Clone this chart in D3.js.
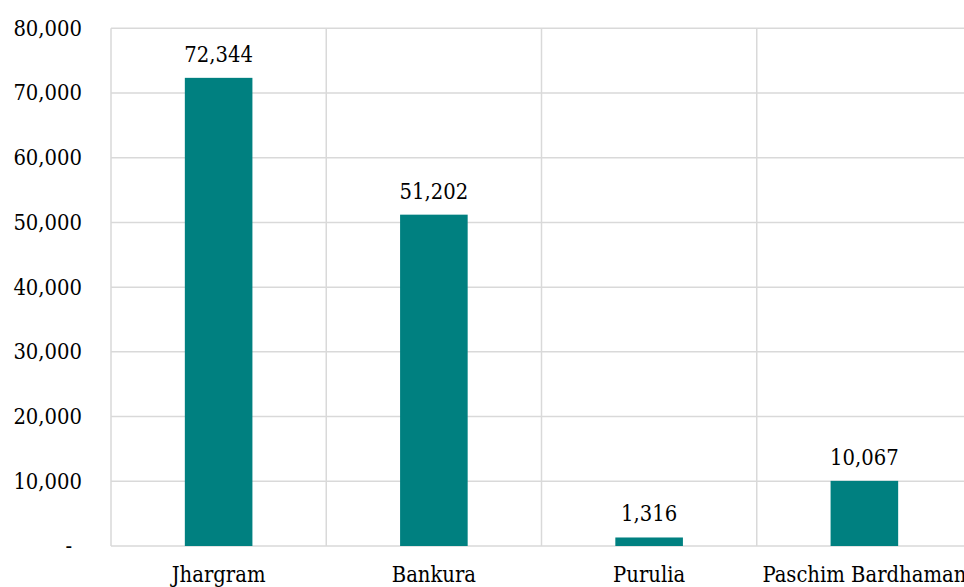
<!DOCTYPE html>
<html>
<head>
<meta charset="utf-8">
<script src="https://cdn.jsdelivr.net/npm/d3@7"></script>
<style>
  html, body { margin: 0; padding: 0; background: #fff; overflow: hidden; }
  svg { display: block; }
  text { font-family: "DejaVu Serif Condensed", "DejaVu Serif", serif; font-stretch: condensed; fill: #000; }
</style>
</head>
<body>
<svg id="chart" width="964" height="587"></svg>
<script>
// District totals
const categories = ["Jhargram", "Bankura", "Purulia", "Paschim Bardhaman"];
const values = [72344, 51202, 1316, 10067];
const yTicks = [0, 10000, 20000, 30000, 40000, 50000, 60000, 70000, 80000];

const svg = d3.select("#chart");
const margin = { left: 111, top: 28.3, bottom: 546 };
const plotRight = 972;
const fontSize = 21.8;

const x = d3.scaleBand()
  .domain(categories)
  .range([margin.left, plotRight])
  .paddingInner(0)
  .paddingOuter(0);

const y = d3.scaleLinear()
  .domain([0, 80000])
  .range([margin.bottom, margin.top]);

const fmt = d3.format(",");
const grid = "#d9d9d9";

// Horizontal gridlines
svg.append("g")
  .selectAll("line")
  .data(yTicks)
  .join("line")
  .attr("x1", margin.left).attr("x2", plotRight)
  .attr("y1", d => y(d)).attr("y2", d => y(d))
  .attr("stroke", grid).attr("stroke-width", 1.5);

// Vertical category dividers
const dividers = categories.map(c => x(c)).concat([plotRight]);
svg.append("g")
  .selectAll("line")
  .data(dividers)
  .join("line")
  .attr("x1", d => d).attr("x2", d => d)
  .attr("y1", margin.top).attr("y2", margin.bottom)
  .attr("stroke", grid).attr("stroke-width", 1.5);

// Bars
const barW = x.bandwidth() * 0.314;
svg.append("g")
  .selectAll("rect")
  .data(values)
  .join("rect")
  .attr("x", (d, i) => x(categories[i]) + x.bandwidth() / 2 - barW / 2)
  .attr("y", d => y(d))
  .attr("width", barW)
  .attr("height", d => y(0) - y(d))
  .attr("fill", "#008080");

// Value labels
svg.append("g")
  .selectAll("text")
  .data(values)
  .join("text")
  .attr("x", (d, i) => x(categories[i]) + x.bandwidth() / 2)
  .attr("y", d => y(d) - 16)
  .attr("text-anchor", "middle")
  .attr("font-size", fontSize)
  .text(d => fmt(d));

// Y axis labels
const yAxis = d3.axisLeft(y)
  .tickValues(yTicks)
  .tickSize(0)
  .tickPadding(29)
  .tickFormat(d => d === 0 ? "-" : fmt(d));
const yg = svg.append("g")
  .attr("transform", `translate(${margin.left},0)`)
  .call(yAxis);
yg.attr("font-family", null);
yg.select(".domain").remove();
yg.selectAll("text")
  .attr("font-size", fontSize)
  .attr("dy", "0.32em");
yg.selectAll(".tick").filter(d => d === 0).select("text").attr("dx", -10);

// X axis labels
const xAxis = d3.axisBottom(x).tickSize(0).tickPadding(21);
const xg = svg.append("g")
  .attr("transform", `translate(0,${margin.bottom})`)
  .call(xAxis);
xg.attr("font-family", null);
xg.select(".domain").remove();
xg.selectAll("text")
  .attr("font-size", fontSize);
</script>
</body>
</html>
